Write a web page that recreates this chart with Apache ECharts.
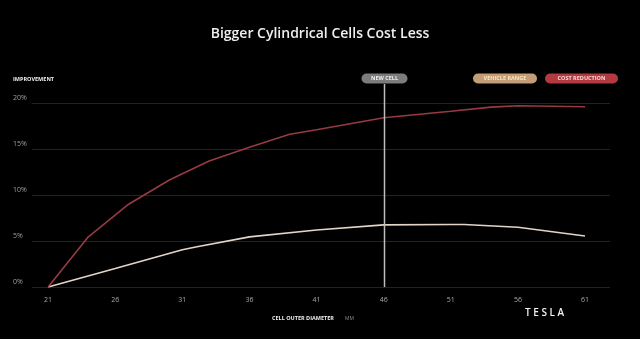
<!DOCTYPE html>
<html>
<head>
<meta charset="utf-8">
<script src="https://cdn.jsdelivr.net/npm/echarts@6/dist/echarts.min.js"></script>
<style>
  html, body { margin: 0; padding: 0; background: #000; }
  #chart { width: 640px; height: 339px; }
</style>
</head>
<body>
<div id="chart"></div>
<script>
// Cell outer diameter (mm) vs. improvement (%)
const xTicks = [21, 26, 31, 36, 41, 46, 51, 56, 61];
const yTicks = [0, 5, 10, 15, 20];

const costDiameters = [21, 24, 27, 30, 31, 33, 36, 39, 41, 46, 51, 54, 56, 61];
const costReduction = [0, 5.45, 9.0, 11.6, 12.3, 13.7, 15.2, 16.6, 17.1, 18.4, 19.1, 19.55, 19.7, 19.6];

const rangeDiameters = [21, 26, 31, 32, 36, 41, 46, 51, 52, 56, 61];
const vehicleRange = [0, 2.0, 4.05, 4.35, 5.45, 6.2, 6.75, 6.8, 6.8, 6.5, 5.55];

const newCellDiameter = 46;

const seriesNames = ['VEHICLE RANGE', 'COST REDUCTION'];
const seriesColors = ['#e4d4c6', '#983a44'];
const badgeColors = ['#c49d78', '#b23a40'];
const badgeText = ['#f8e6bc', '#f5d8d8'];

const FONT = '"Open Sans", "DejaVu Sans", sans-serif';

const chart = echarts.init(document.getElementById('chart'), null, { renderer: 'canvas' });

function pairs(xs, ys) { return xs.map((x, i) => [x, ys[i]]); }

chart.setOption({
  backgroundColor: '#000',
  animation: false,
  title: {
    text: 'Bigger Cylindrical Cells Cost Less',
    left: 'center',
    top: 22,
    textStyle: { color: '#efefef', fontFamily: FONT, fontSize: 14, fontWeight: 600 }
  },
  grid: { left: 32, right: 30, top: 103, bottom: 52 },
  xAxis: {
    type: 'value',
    min: 19.8,
    max: 62.86,
    axisLine: { show: false },
    axisTick: { show: false },
    splitLine: { show: false },
    axisLabel: {
      customValues: xTicks,
      color: '#a8a8a8',
      fontFamily: FONT,
      fontSize: 7,
      margin: 9
    }
  },
  yAxis: {
    type: 'value',
    min: 0,
    max: 20,
    interval: 5,
    axisLine: { show: false },
    axisTick: { show: false },
    splitLine: { lineStyle: { color: '#222222', width: 1 } },
    axisLabel: {
      formatter: '{value}%',
      color: '#a0a0a0',
      fontFamily: FONT,
      fontSize: 7,
      align: 'left',
      verticalAlign: 'bottom',
      padding: [0, 0, 2, 0],
      margin: 19
    }
  },
  series: [
    {
      name: seriesNames[0],
      type: 'line',
      data: pairs(rangeDiameters, vehicleRange),
      showSymbol: false,
      z: 3,
      lineStyle: { color: seriesColors[0], width: 1.6 }
    },
    {
      name: seriesNames[1],
      type: 'line',
      data: pairs(costDiameters, costReduction),
      showSymbol: false,
      z: 3,
      lineStyle: { color: seriesColors[1], width: 1.6 }
    }
  ]
});

// Vertical "new cell" marker, legend badges and footer text
const base = chart.convertToPixel({ xAxisIndex: 0, yAxisIndex: 0 }, [newCellDiameter, 0]);
const lineX = Math.round(base[0]) + 0.5;

function badge(cx, cy, w, label, fill, color) {
  return [
    {
      type: 'rect',
      shape: { x: cx - w / 2, y: cy - 5, width: w, height: 10, r: 5 },
      style: { fill: fill },
      z: 10
    },
    {
      type: 'text',
      x: cx, y: cy,
      style: {
        text: label, fill: color, font: 'bold 5.5px ' + FONT,
        align: 'center', verticalAlign: 'middle'
      },
      z: 11
    }
  ];
}

chart.setOption({
  graphic: [
    {
      type: 'line',
      shape: { x1: lineX, y1: 84, x2: lineX, y2: base[1] },
      style: { stroke: '#bdbdbd', lineWidth: 1.5 },
      z: 9
    },
    ...badge(lineX, 78.5, 46, 'NEW CELL', '#7c7c7c', '#efefef'),
    ...badge(505, 78.5, 64, seriesNames[0], badgeColors[0], badgeText[0]),
    ...badge(581.5, 78.5, 73, seriesNames[1], badgeColors[1], badgeText[1]),
    {
      type: 'text',
      x: 13, y: 79,
      style: {
        text: 'IMPROVEMENT', fill: '#f0f0f0', font: 'bold 5.5px ' + FONT,
        align: 'left', verticalAlign: 'middle'
      }
    },
    {
      type: 'text',
      x: 272, y: 318.5,
      style: {
        text: 'CELL OUTER DIAMETER', fill: '#f0f0f0', font: 'bold 5.5px ' + FONT,
        align: 'left', verticalAlign: 'middle'
      }
    },
    {
      type: 'text',
      x: 345, y: 318.5,
      style: {
        text: 'MM', fill: '#8a8a8a', font: '5px ' + FONT,
        align: 'left', verticalAlign: 'middle'
      }
    },
    {
      type: 'text',
      x: 525, y: 313,
      style: {
        text: 'T E S L A', fill: '#f2f2f2', font: '600 10px ' + FONT,
        align: 'left', verticalAlign: 'middle'
      }
    }
  ]
});
</script>
</body>
</html>
